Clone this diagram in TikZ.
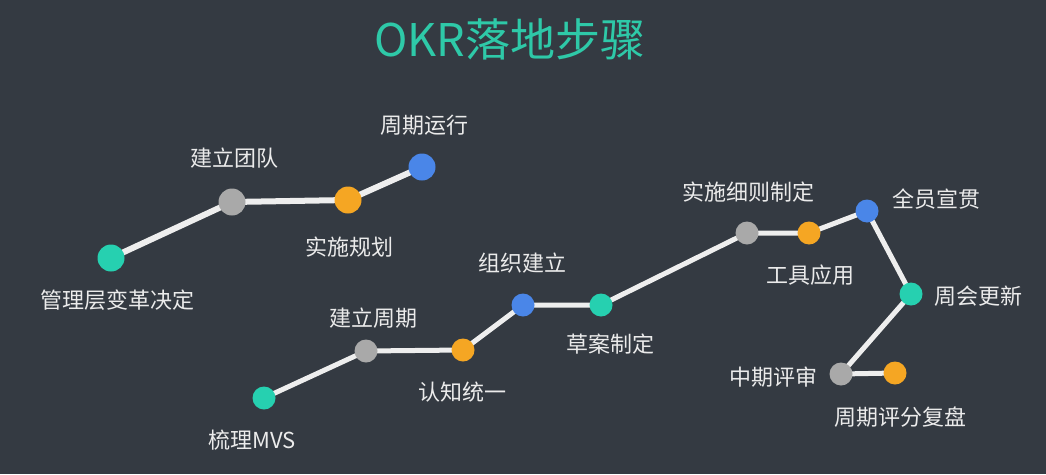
\documentclass[tikz,border=0pt]{standalone}
\usepackage{fontspec}
\setmainfont{Noto Sans CJK SC}
\definecolor{bg}{HTML}{343A42}
\definecolor{tealc}{HTML}{26D0B0}
\definecolor{grayc}{HTML}{A9A9A9}
\definecolor{orangec}{HTML}{F5A623}
\definecolor{bluec}{HTML}{4A86E8}
\definecolor{titlec}{HTML}{2EC9A8}
\definecolor{linec}{HTML}{EEEEEE}
\begin{document}
\begin{tikzpicture}[x=1pt,y=-1pt,
  dotA/.style={circle,inner sep=0pt,minimum size=27pt},
  dotB/.style={circle,inner sep=0pt,minimum size=23pt},
  lbl/.style={text=white!92!black,font=\fontsize{22}{24}\selectfont,inner sep=0pt},
  linkA/.style={linec,line width=6pt},
  linkB/.style={linec,line width=5pt}]
\fill[bg] (0,0) rectangle (1046,474);
\useasboundingbox (0,0) rectangle (1046,474);
\node[text=titlec,font=\fontsize{45}{50}\selectfont] (title) at (510,39) {OKR落地步骤};
% group 1
\coordinate (a1) at (111,258);
\coordinate (a2) at (232,202);
\coordinate (a3) at (348,200);
\coordinate (a4) at (422,167);
\draw[linkA] (a1) -- (a2) -- (a3) -- (a4);
\node[dotA,fill=tealc] (n1) at (a1) {};
\node[dotA,fill=grayc] (n2) at (a2) {};
\node[dotA,fill=orangec] (n3) at (a3) {};
\node[dotA,fill=bluec] (n4) at (a4) {};
\node[lbl] (l1) at (117,300) {管理层变革决定};
\node[lbl] (l2) at (234,158) {建立团队};
\node[lbl] (l3) at (349,247) {实施规划};
\node[lbl] (l4) at (424,125) {周期运行};
% group 2
\coordinate (b1) at (264,398);
\coordinate (b2) at (366,351);
\coordinate (b3) at (463,350);
\coordinate (b4) at (523,305);
\coordinate (b5) at (601,305);
\coordinate (b6) at (747,233);
\coordinate (b7) at (809,233);
\coordinate (b8) at (867,211);
\coordinate (b9) at (911,294);
\coordinate (b10) at (841,374);
\coordinate (b11) at (895,373);
\draw[linkB] (b1) -- (b2) -- (b3) -- (b4) -- (b5) -- (b6) -- (b7) -- (b8) -- (b9) -- (b10) -- (b11);
\node[dotB,fill=tealc] (m1) at (b1) {};
\node[dotB,fill=grayc] (m2) at (b2) {};
\node[dotB,fill=orangec] (m3) at (b3) {};
\node[dotB,fill=bluec] (m4) at (b4) {};
\node[dotB,fill=tealc] (m5) at (b5) {};
\node[dotB,fill=grayc] (m6) at (b6) {};
\node[dotB,fill=orangec] (m7) at (b7) {};
\node[dotB,fill=bluec] (m8) at (b8) {};
\node[dotB,fill=tealc] (m9) at (b9) {};
\node[dotB,fill=grayc] (m10) at (b10) {};
\node[dotB,fill=orangec] (m11) at (b11) {};
\node[lbl] (k1) at (252,440) {梳理MVS};
\node[lbl] (k2) at (373,318) {建立周期};
\node[lbl] (k3) at (462,392) {认知统一};
\node[lbl] (k4) at (522,263) {组织建立};
\node[lbl] (k5) at (610,344) {草案制定};
\node[lbl] (k6) at (748,192) {实施细则制定};
\node[lbl] (k7) at (810,275) {工具应用};
\node[lbl,anchor=west] (k8) at (892,199) {全员宣贯};
\node[lbl,anchor=west] (k9) at (934,296) {周会更新};
\node[lbl,anchor=east] (k10) at (818,377) {中期评审};
\node[lbl] (k11) at (900,417) {周期评分复盘};
\end{tikzpicture}
\end{document}
